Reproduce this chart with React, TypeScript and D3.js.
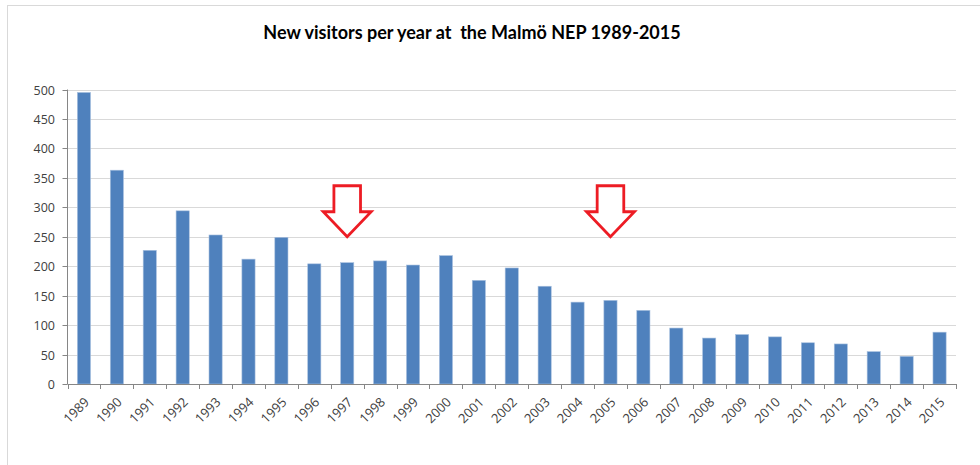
import React, { useRef, useEffect } from "react";
import * as d3 from "d3";

const years = [
  "1989", "1990", "1991", "1992", "1993", "1994", "1995", "1996", "1997",
  "1998", "1999", "2000", "2001", "2002", "2003", "2004", "2005", "2006",
  "2007", "2008", "2009", "2010", "2011", "2012", "2013", "2014", "2015",
];
const visitors = [
  495, 363, 227, 294, 253, 212, 249, 204, 206, 209, 202, 218, 176, 197,
  166, 139, 142, 125, 95, 78, 84, 80, 70, 68, 55, 47, 88,
];
const yTicks = [0, 50, 100, 150, 200, 250, 300, 350, 400, 450, 500];
// arrows pointing down at these years, tip at this value
const arrowYears = ["1997", "2005"];
const arrowTipValue = 250;

const title = "New visitors per year at  the Malmö NEP 1989-2015";

const App = () => {
  const svgRef = useRef<SVGSVGElement>(null);

  useEffect(() => {
    const svg = d3.select(svgRef.current);
    svg.selectAll("*").remove();

    const width = 980;
    const height = 465;
    const left = 67.5;
    const right = 956;
    const top = 89.5;
    const bottom = 384;

    svg.attr("width", width).attr("height", height);

    // chart frame
    svg.append("rect")
      .attr("x", 7.5).attr("y", 5.5)
      .attr("width", 990).attr("height", 500)
      .attr("fill", "white")
      .attr("stroke", "#d9d9d9");

    svg.append("text")
      .attr("x", 472).attr("y", 39)
      .attr("text-anchor", "middle")
      .attr("font-family", "Lato, sans-serif")
      .attr("font-weight", "bold")
      .attr("font-size", "18px")
      .attr("fill", "#000")
      .style("white-space", "pre")
      .text(title);

    const x = d3.scaleBand()
      .domain(years)
      .range([left, right])
      .paddingInner(0.6)
      .paddingOuter(0.3);

    const y = d3.scaleLinear().domain([0, 500]).range([bottom, top]);

    // gridlines
    svg.append("g").selectAll("line")
      .data(yTicks.filter((t) => t > 0))
      .enter().append("line")
      .attr("x1", left).attr("x2", right)
      .attr("y1", (d) => Math.round(y(d)) + 0.5)
      .attr("y2", (d) => Math.round(y(d)) + 0.5)
      .attr("stroke", "#d9d9d9");

    // bars
    svg.append("g").selectAll("rect")
      .data(years)
      .enter().append("rect")
      .attr("x", (d) => x(d))
      .attr("width", x.bandwidth())
      .attr("y", (d, i) => y(visitors[i]))
      .attr("height", (d, i) => bottom - y(visitors[i]))
      .attr("fill", "#4f81bd")
      .attr("stroke", "#a9c1df")
      .attr("stroke-width", 0.6);

    // y axis
    const axisColor = "#868686";
    svg.append("line")
      .attr("x1", left).attr("x2", left)
      .attr("y1", top).attr("y2", bottom)
      .attr("stroke", axisColor);
    const yt = svg.append("g").selectAll("g")
      .data(yTicks)
      .enter().append("g")
      .attr("transform", (d) => `translate(0, ${Math.round(y(d)) + 0.5})`);
    yt.append("line")
      .attr("x1", left - 5).attr("x2", left)
      .attr("stroke", axisColor);
    yt.append("text")
      .attr("x", 55)
      .attr("dy", "0.36em")
      .attr("text-anchor", "end")
      .attr("font-family", "'Open Sans', sans-serif")
      .attr("font-size", "12.5px")
      .attr("fill", "#404040")
      .text((d) => d);

    // x axis
    svg.append("line")
      .attr("x1", left).attr("x2", right)
      .attr("y1", bottom + 0.5).attr("y2", bottom + 0.5)
      .attr("stroke", axisColor);
    const step = x.step();
    const bounds = years.map((d) => x(d)! - step * 0.3).concat([right]);
    svg.append("g").selectAll("line")
      .data(bounds)
      .enter().append("line")
      .attr("x1", (d) => Math.round(d) + 0.5)
      .attr("x2", (d) => Math.round(d) + 0.5)
      .attr("y1", bottom).attr("y2", bottom + 5)
      .attr("stroke", axisColor);
    svg.append("g").selectAll("text")
      .data(years)
      .enter().append("text")
      .attr("transform", (d) => `translate(${x(d)! + x.bandwidth() / 2 + 6}, ${bottom + 19}) rotate(-45)`)
      .attr("text-anchor", "end")
      .attr("font-family", "'Open Sans', sans-serif")
      .attr("font-size", "13px")
      .attr("fill", "#404040")
      .text((d) => d);

    // red arrows
    const arrowPath = "M0,0 L-24,-25 L-13.3,-25 L-13.3,-51 L13.3,-51 L13.3,-25 L24,-25 Z";
    svg.append("g").selectAll("path")
      .data(arrowYears)
      .enter().append("path")
      .attr("transform", (d) => `translate(${x(d)! + x.bandwidth() / 2}, ${y(arrowTipValue)})`)
      .attr("d", arrowPath)
      .attr("fill", "white")
      .attr("stroke", "#ed1c24")
      .attr("stroke-width", 2.8)
      .attr("stroke-linejoin", "miter");
  }, []);

  return (
    <svg ref={svgRef} style={{ position: "absolute", left: 0, top: 0 }}></svg>
  );
};

export default App;
